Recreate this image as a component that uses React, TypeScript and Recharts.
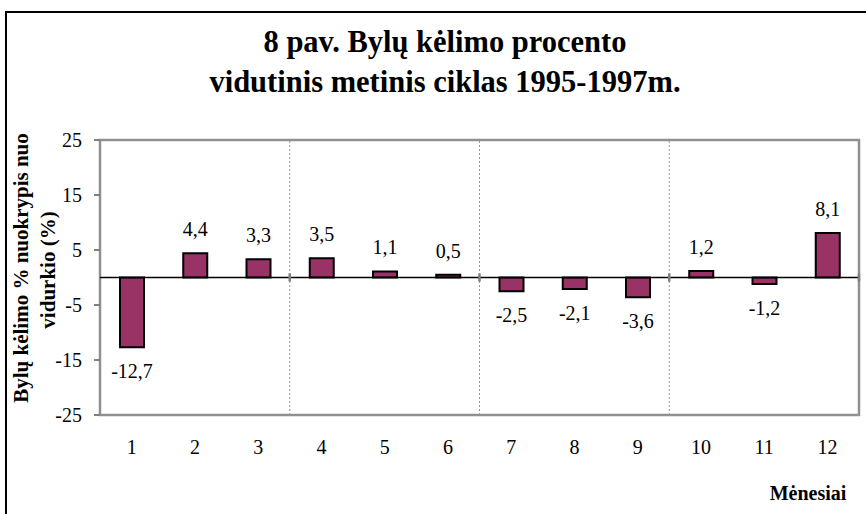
import React from "react";
import {
  BarChart,
  Bar,
  XAxis,
  YAxis,
  ReferenceLine,
  ReferenceArea,
  LabelList,
} from "recharts";

const months = ["1", "2", "3", "4", "5", "6", "7", "8", "9", "10", "11", "12"];
const deviation = [-12.7, 4.4, 3.3, 3.5, 1.1, 0.5, -2.5, -2.1, -3.6, 1.2, -1.2, 8.1];
const yTicks = [-25, -15, -5, 5, 15, 25];
// quarter boundaries: line drawn at the start of these months
const quarterStarts = ["4", "7", "10"];

const data = months.map((m, i) => ({ month: m, value: deviation[i] }));

const serif = '"Liberation Serif", "Times New Roman", serif';

const fmt = (v: number) => v.toFixed(1).replace(".", ",");

const ValueLabel = (props: any) => {
  const { x, y, width, height, value } = props;
  const top = Math.min(y, y + height);
  const bottom = Math.max(y, y + height);
  const cx = x + width / 2;
  const ty = value >= 0 ? top - 24 : bottom + 24;
  return (
    <text
      x={cx}
      y={ty}
      textAnchor="middle"
      dominantBaseline="central"
      fontFamily={serif}
      fontSize={20}
      fill="#000"
    >
      {fmt(value)}
    </text>
  );
};

export default function App() {
  return (
    <div
      style={{
        position: "absolute",
        left: 0,
        top: 0,
        width: 866,
        height: 514,
        overflow: "hidden",
        background: "#fff",
      }}
    >
      <div
        style={{
          position: "absolute",
          left: 5,
          top: 11,
          width: 880,
          height: 520,
          border: "2px solid #000",
        }}
      />
      <BarChart
        width={866}
        height={514}
        data={data}
        margin={{ top: 140, right: 7, bottom: 59, left: 40 }}
        style={{ position: "absolute", left: 0, top: 0 }}
      >
        <XAxis
          dataKey="month"
          axisLine={false}
          tickLine={false}
          tickSize={0}
          tickMargin={25}
          height={40}
          interval={0}
          tick={{ fontFamily: serif, fontSize: 20, fill: "#000" }}
        />
        <YAxis
          domain={[-25, 25]}
          ticks={yTicks}
          width={60}
          axisLine={false}
          tickLine={{ stroke: "#808080", strokeWidth: 2 }}
          tickSize={6}
          tickMargin={12}
          tick={{ fontFamily: serif, fontSize: 20, fill: "#000" }}
        />
        <ReferenceArea
          y1={-25}
          y2={25}
          fill="none"
          fillOpacity={0}
          stroke="#909090"
          strokeWidth={2.5}
          ifOverflow="visible"
        />
        {quarterStarts.map((q) => (
          <ReferenceLine
            key={q}
            x={q}
            position="start"
            stroke="#999"
            strokeWidth={1}
            strokeDasharray="2 2"
          />
        ))}
        <ReferenceLine y={0} stroke="#000" strokeWidth={1.5} />
        {quarterStarts.map((q) => (
          <ReferenceLine
            key={"t" + q}
            position="start"
            segment={[
              { x: q, y: -0.75 },
              { x: q, y: 0.75 },
            ]}
            stroke="#808080"
            strokeWidth={2.5}
            ifOverflow="visible"
          />
        ))}
        <ReferenceLine
          position="end"
          segment={[
            { x: months[months.length - 1], y: -0.75 },
            { x: months[months.length - 1], y: 0.75 },
          ]}
          stroke="#808080"
          strokeWidth={2.5}
          ifOverflow="visible"
        />
        <Bar
          dataKey="value"
          fill="#993366"
          stroke="#000"
          strokeWidth={2}
          barSize={24}
          isAnimationActive={false}
        >
          <LabelList dataKey="value" content={ValueLabel} />
        </Bar>
      </BarChart>
      <svg
        width={866}
        height={514}
        style={{ position: "absolute", left: 0, top: 0, pointerEvents: "none" }}
      >
        <text
          x={445}
          y={42}
          textAnchor="middle"
          dominantBaseline="central"
          fontFamily={serif}
          fontWeight="bold"
          fontSize={30.5}
        >
          8 pav. Bylų kėlimo procento
        </text>
        <text
          x={445}
          y={82}
          textAnchor="middle"
          dominantBaseline="central"
          fontFamily={serif}
          fontWeight="bold"
          fontSize={30.5}
        >
          vidutinis metinis ciklas 1995-1997m.
        </text>
        <g transform="translate(21 268) rotate(-90)">
          <text
            x={0}
            y={0}
            textAnchor="middle"
            dominantBaseline="central"
            fontFamily={serif}
            fontWeight="bold"
            fontSize={21}
          >
            Bylų kėlimo % nuokrypis nuo
          </text>
        </g>
        <g transform="translate(48 270) rotate(-90)">
          <text
            x={0}
            y={0}
            textAnchor="middle"
            dominantBaseline="central"
            fontFamily={serif}
            fontWeight="bold"
            fontSize={21}
          >
            vidurkio (%)
          </text>
        </g>
        <text
          x={808}
          y={493}
          textAnchor="middle"
          dominantBaseline="central"
          fontFamily={serif}
          fontWeight="bold"
          fontSize={20}
        >
          Mėnesiai
        </text>
      </svg>
    </div>
  );
}
